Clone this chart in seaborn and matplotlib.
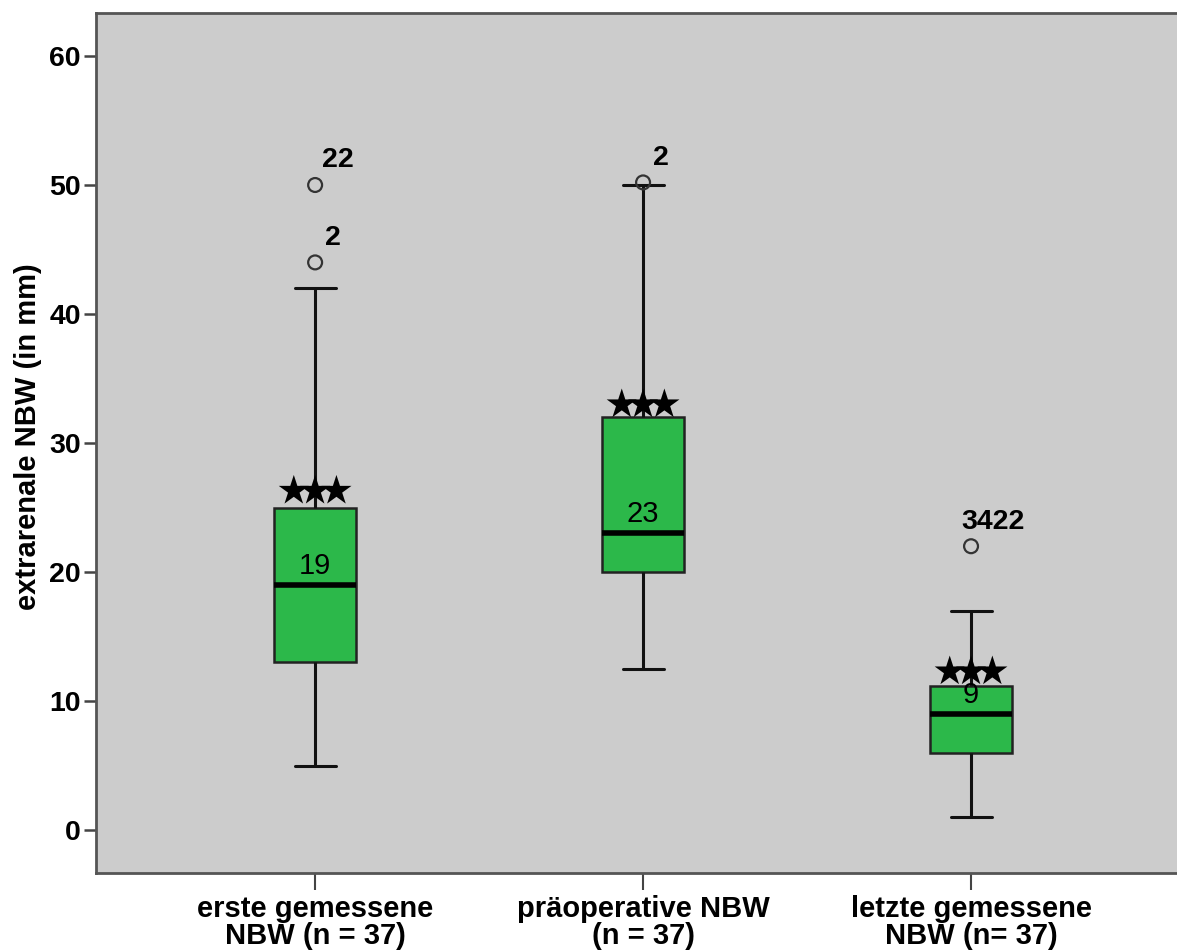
import numpy as np
import pandas as pd
import matplotlib
matplotlib.use("Agg")
import matplotlib.pyplot as plt
import seaborn as sns

# five-number summaries (SPSS boxplot)
categories = ["erste gemessene\nNBW (n = 37)", "präoperative NBW\n(n = 37)", "letzte gemessene\nNBW (n= 37)"]
whisker_low = [5, 12.5, 1]
q1 = [13, 20, 6]
median = [19, 23, 9]
q3 = [25, 32, 11.2]
whisker_high = [42, 50, 17]

# outliers (circles) with their case labels
outlier_group = [0, 0, 1, 2]
outlier_value = [50, 44, 50.2, 22]
outlier_label = ["22", "2", "2", "3422"]

# significance stars level per box
star_level = [26.3, 33.0, 12.3]

green = "#2cb84a"

# five values per group -> quartiles land exactly on q1/median/q3 with whis=(0, 100)
rows = []
for i, cat in enumerate(categories):
    for v in [whisker_low[i], q1[i], median[i], q3[i], whisker_high[i]]:
        rows.append({"group": cat, "value": v})
df = pd.DataFrame(rows)

sns.set_theme(style="ticks")
plt.rcParams["font.family"] = ["Liberation Sans", "DejaVu Sans"]
plt.rcParams["text.color"] = "black"
plt.rcParams["xtick.color"] = "#444444"
plt.rcParams["ytick.color"] = "#444444"
plt.rcParams["xtick.labelcolor"] = "black"
plt.rcParams["ytick.labelcolor"] = "black"

fig = plt.figure(figsize=(11.77, 9.51), dpi=100)
ax = fig.add_axes([0.0816, 0.082, 0.9184, 0.9043])
ax.set_facecolor("#cccccc")

sns.boxplot(
    data=df, x="group", y="value", order=categories,
    whis=(0, 100), width=0.25, color=green, saturation=1,
    linecolor="#222222", linewidth=1.8, showfliers=False,
    medianprops=dict(color="black", linewidth=4),
    whiskerprops=dict(linewidth=2.2, color="#111111"),
    capprops=dict(linewidth=2.2, color="#111111"),
    ax=ax
)

# outliers
sns.scatterplot(
    x=outlier_group, y=outlier_value, marker="o", s=100,
    facecolor="none", edgecolor="#333333", linewidth=1.6, ax=ax, zorder=5
)
label_dx = [0.02, 0.03, 0.03, -0.03]
for g, v, lab, dx in zip(outlier_group, outlier_value, outlier_label, label_dx):
    ax.text(g + dx, v + 1.9, lab, ha="left", va="center", fontsize=20.5,
            fontweight="bold", color="black")

# median labels
for i, m in enumerate(median):
    ax.text(i, m + 0.4, str(m), ha="center", va="bottom", fontsize=21, color="black")

# stars
for i, lvl in enumerate(star_level):
    sns.scatterplot(
        x=[i - 0.065, i, i + 0.065], y=[lvl] * 3, marker="*", s=520,
        color="black", edgecolor="none", ax=ax, zorder=6
    )

ax.set_xlim(-0.668, 2.628)
ax.set_ylim(-3.33, 63.33)
ax.set_yticks(range(0, 61, 10))
ax.set_xticks(range(3))
ax.set_xticklabels(categories, fontsize=21, fontweight="bold", linespacing=0.95)
for t in ax.get_yticklabels():
    t.set_fontweight("bold")
ax.tick_params(axis="y", labelsize=20.5, length=9, width=1.8, pad=2)
ax.tick_params(axis="x", length=12, width=1.5, pad=4)

ax.set_xlabel("")
ax.set_ylabel("extrarenale NBW (in mm)", fontsize=21, fontweight="bold", color="black")
ax.yaxis.set_label_coords(-0.05, 0.507)

for side in ["left", "bottom", "top"]:
    ax.spines[side].set_visible(True)
    ax.spines[side].set_color("#555555")
    ax.spines[side].set_linewidth(2)
ax.spines["right"].set_visible(False)

fig.savefig("out.png", dpi=100, facecolor="white")
